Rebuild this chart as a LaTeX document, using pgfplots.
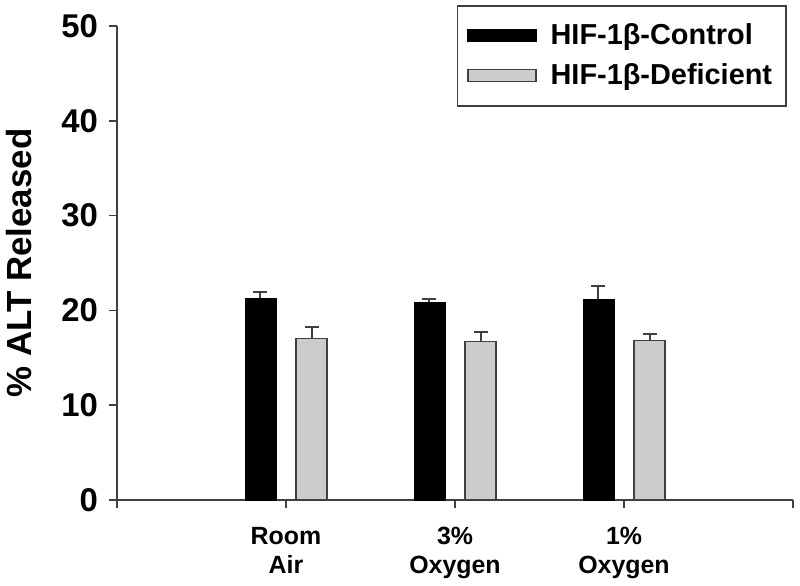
\documentclass[border=0pt]{standalone}
\usepackage{fontspec}
\setmainfont{Liberation Sans}
\usepackage{pgfplots}
\pgfplotsset{compat=1.18}
\definecolor{axgray}{HTML}{404040}
\definecolor{lightbar}{HTML}{CCCCCC}

\begin{document}
\begin{tikzpicture}
\begin{axis}[
    scale only axis,
    width=338bp, height=237bp,
    xmin=0, xmax=4, ymin=0, ymax=50,
    axis x line*=bottom, axis y line*=left,
    axis line style={axgray, line width=0.8bp},
    tick style={axgray, line width=0.8bp},
    tick align=outside, major tick length=4bp,
    xtick={0,1,2,3,4},
    xticklabels={,Room\\Air,3\%\\Oxygen,1\%\\Oxygen,},
    xticklabel style={align=center, font=\fontsize{12.5}{14.5}\selectfont\bfseries, yshift=-6bp},
    ytick={0,10,20,30,40,50},
    yticklabel style={font=\fontsize{16.5}{18}\selectfont\bfseries, xshift=-2bp},
    /pgf/number format/assume math mode=true,
    ylabel={\% ALT Released},
    ylabel style={font=\fontsize{17.5}{20}\selectfont\bfseries, at={(axis description cs:-0.1257,0.5)}, anchor=south, inner sep=0pt},
    ybar, bar width=0.183,
    legend style={at={(rel axis cs:0.991,1.044)}, anchor=north east,
        draw=axgray, line width=0.8bp,
        font=\fontsize{14.5}{17}\selectfont\bfseries,
        inner xsep=5bp, inner ysep=7bp, row sep=4bp,
        /tikz/every odd column/.append style={column sep=5bp},
        cells={anchor=west}},
    legend image code/.code={\draw[#1, line width=0.6bp] (0bp,-3bp) rectangle (34bp,3bp);},
    error bars/y dir=plus, error bars/y explicit,
    error bars/error bar style={axgray, line width=1bp},
    error bars/error mark options={axgray, line width=1bp, mark size=3.5bp, rotate=90},
]
\addplot[fill=black, draw=black, bar shift=-0.151]
    table[x=x, y=y, y error=e] {
    x y e
    1 21.3 0.6
    2 20.85 0.35
    3 21.2 1.35
};
\addlegendentry{HIF-1β-Control}
\addplot[fill=lightbar, draw=axgray, line width=0.6bp, bar shift=0.151]
    table[x=x, y=y, y error=e] {
    x y e
    1 17.0 1.2
    2 16.75 0.95
    3 16.8 0.7
};
\addlegendentry{HIF-1β-Deficient}
\coordinate (bl) at (rel axis cs:0,0);
\end{axis}
\pgfresetboundingbox
\path[use as bounding box] (bl) ++(-58.5bp,-43bp) rectangle ++(400bp,293bp);
\end{tikzpicture}
\end{document}
